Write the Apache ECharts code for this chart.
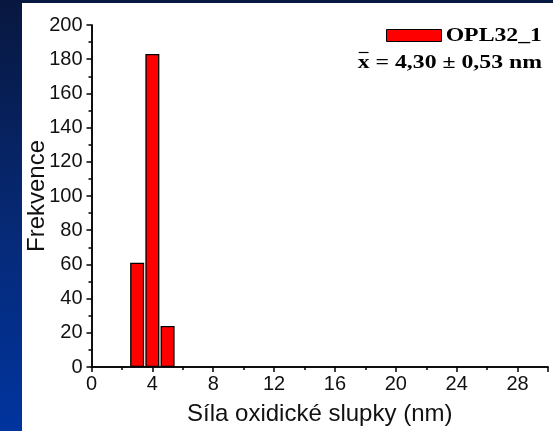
<!DOCTYPE html>
<html>
<head>
<meta charset="utf-8">
<script src="https://cdn.jsdelivr.net/npm/echarts@6/dist/echarts.min.js"></script>
<style>
  html, body { margin: 0; padding: 0; }
  body {
    width: 553px; height: 431px; overflow: hidden; position: relative;
    background: linear-gradient(to bottom, #08173f 0%, #062a78 55%, #00349e 100%);
  }
  #paper { position: absolute; left: 22px; top: 3px; width: 531px; height: 428px; background: #fff; }
  #chart { position: absolute; left: 0; top: 0; width: 553px; height: 431px; }
</style>
</head>
<body>
<div id="paper"></div>
<div id="chart"></div>
<script>
// Histogram of oxide shell thickness
const binCenters = [3, 4, 5];          // nm
const counts = [61, 183, 24];          // frequency per bin
const seriesName = 'OPL32_1';
const meanLabel = ' = 4,30 \u00B1 0,53 nm';
const xTicks = { min: 0, max: 30, interval: 4 };
const yTicks = { min: 0, max: 200, interval: 20 };

const sans = '"Liberation Sans", Arial, sans-serif';
const serif = '"Liberation Serif", "Times New Roman", serif';
const barRed = '#ff0000';

// measure serif legend text to place the overbar above the mean symbol
const measure = document.createElement('canvas').getContext('2d');
measure.font = 'bold 18px ' + serif;
const sx = 1.32;
const wX = measure.measureText('x').width * sx;
const wRest = measure.measureText(meanLabel).width * sx;
const textRight = 542;
const meanLeft = textRight - wRest - wX;

const chart = echarts.init(document.getElementById('chart'), null, { renderer: 'canvas' });

const axisLine = { show: true, lineStyle: { color: '#000', width: 1.5 } };

chart.setOption({
  animation: false,
  backgroundColor: 'transparent',
  grid: { left: 91.5, top: 25, right: 5, bottom: 62.5 },
  xAxis: [
    {
      type: 'value', position: 'bottom',
      min: xTicks.min, max: xTicks.max, interval: xTicks.interval,
      name: 'S\u00EDla oxidick\u00E9 slupky (nm)',
      nameLocation: 'middle', nameGap: 35, nameMoveOverlap: false,
      nameTextStyle: { fontFamily: sans, fontSize: 24, color: '#111' },
      axisLine: axisLine,
      axisTick: { show: true, inside: false, length: 5, lineStyle: { color: '#000', width: 1.5 } },
      minorTick: { show: true, splitNumber: 2, length: 3, lineStyle: { color: '#000', width: 1.5 } },
      axisLabel: { fontFamily: sans, fontSize: 20, color: '#111', margin: 7, showMaxLabel: false },
      splitLine: { show: false }
    },
    {
      type: 'value', position: 'top',
      min: xTicks.min, max: xTicks.max,
      axisLine: axisLine, axisTick: { show: false }, axisLabel: { show: false }, splitLine: { show: false }
    }
  ],
  yAxis: [
    {
      type: 'value', position: 'left',
      min: yTicks.min, max: yTicks.max, interval: yTicks.interval,
      name: 'Frekvence',
      nameLocation: 'middle', nameGap: 42, nameMoveOverlap: false,
      nameTextStyle: { fontFamily: sans, fontSize: 24, color: '#111' },
      axisLine: axisLine,
      axisTick: { show: true, inside: false, length: 5, lineStyle: { color: '#000', width: 1.5 } },
      minorTick: { show: true, splitNumber: 2, length: 3, lineStyle: { color: '#000', width: 1.5 } },
      axisLabel: { fontFamily: sans, fontSize: 20, color: '#111', margin: 9 },
      splitLine: { show: false }
    },
    {
      type: 'value', position: 'right',
      min: yTicks.min, max: yTicks.max,
      axisLine: axisLine, axisTick: { show: false }, axisLabel: { show: false }, splitLine: { show: false }
    }
  ],
  series: [
    {
      name: seriesName,
      type: 'bar',
      xAxisIndex: 0, yAxisIndex: 0,
      barWidth: 14,
      data: binCenters.map((c, i) => [c, counts[i]]),
      itemStyle: { color: barRed, borderColor: '#000', borderWidth: 1.3 }
    }
  ],
  graphic: [
    {
      type: 'rect', left: 386, top: 29, z: 10,
      shape: { width: 55, height: 12 },
      style: { fill: barRed, stroke: '#000', lineWidth: 1 }
    },
    {
      type: 'text', x: textRight, y: 36, scaleX: sx, z: 10,
      style: { text: seriesName, font: 'bold 18px ' + serif, fill: '#000', align: 'right', verticalAlign: 'middle' }
    },
    {
      type: 'text', x: meanLeft, y: 63, scaleX: sx, z: 10,
      style: { text: 'x', font: 'bold 18px ' + serif, fill: '#000', align: 'left', verticalAlign: 'middle' }
    },
    {
      type: 'text', x: textRight, y: 63, scaleX: sx, z: 10,
      style: { text: meanLabel, font: 'bold 18px ' + serif, fill: '#000', align: 'right', verticalAlign: 'middle' }
    },
    {
      type: 'line', z: 10,
      shape: { x1: meanLeft + 1, y1: 52.5, x2: meanLeft + wX - 1, y2: 52.5 },
      style: { stroke: '#000', lineWidth: 1.2 }
    }
  ]
});
</script>
</body>
</html>
